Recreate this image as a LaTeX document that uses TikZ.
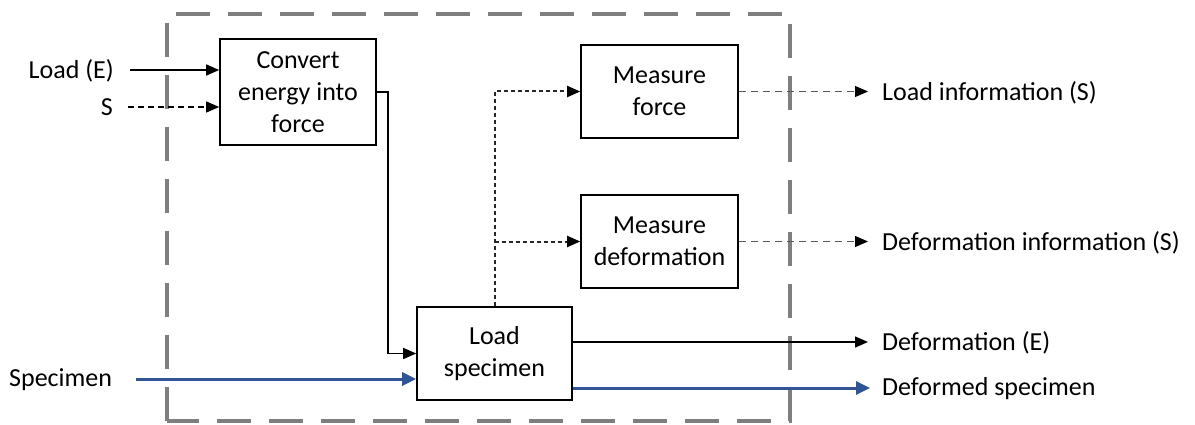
\documentclass[tikz,border=0pt]{standalone}
\usepackage{fontspec}
\setmainfont{Carlito}
\usetikzlibrary{arrows.meta}
\definecolor{flowblue}{HTML}{2F5597}
\definecolor{frame}{HTML}{7F7F7F}
\tikzset{
  fn/.style={draw=black, line width=1.6pt, fill=white, align=center, inner sep=2pt,
    font=\fontsize{26}{32}\selectfont},
  lbl/.style={inner sep=0pt, font=\fontsize{26}{32}\selectfont},
  tip/.style={-{Triangle[length=13pt,width=11pt,color=black]}},
  energy/.style={tip, draw=black, line width=1.5pt},
  signal/.style={tip, draw=black, line width=1.2pt, dash pattern=on 6pt off 4pt},
  probe/.style={tip, draw=black!85, line width=2pt, dash pattern=on 4pt off 3pt},
  sigout/.style={tip, draw=black!65, line width=1pt, dash pattern=on 7pt off 5pt},
  matter/.style={draw=flowblue, fill=flowblue, line width=3pt,
    -{Triangle[length=14pt,width=13pt]}},
  boundary/.style={draw=frame, line width=4pt, dash pattern=on 34pt off 18pt}
}
\begin{document}
\begin{tikzpicture}[x=1pt,y=-1pt]
\useasboundingbox (0,0) rectangle (1195,425);

% system boundary
\draw[boundary] (167,421) -- (167,14) -- (790,14) -- (790,421) -- cycle;

% function blocks
\node[fn, minimum width=156pt, minimum height=106pt] (conv) at (298,92)
  {Convert\\energy into\\force};
\node[fn, minimum width=157pt, minimum height=93pt] (mf) at (659.5,91.5)
  {Measure\\force};
\node[fn, minimum width=157pt, minimum height=93pt] (md) at (659.5,241.5)
  {Measure\\deformation};
\node[fn, minimum width=155pt, minimum height=93pt] (ls) at (494.5,353.5)
  {Load\\specimen};

% inputs
\node[lbl, anchor=east] (inE) at (114,71) {Load (E)};
\node[lbl, anchor=east] (inS) at (113,107) {S};
\node[lbl, anchor=west] (inM) at (9,380) {Specimen};

% outputs
\node[lbl, anchor=west] (outF) at (882,93) {Load information (S)};
\node[lbl, anchor=west] (outD) at (882,243) {Deformation information (S)};
\node[lbl, anchor=west] (outE) at (882,343) {Deformation (E)};
\node[lbl, anchor=west] (outM) at (882,389) {Deformed specimen};

% input flows
\draw[energy, shorten <=16pt] (inE.east |- 0,70) -- (conv.west |- 0,70);
\draw[signal, shorten <=15pt] (inS.east |- 0,107) -- (conv.west |- 0,107);
\draw[matter, shorten <=24pt] (inM.east |- 0,379) -- (ls.west |- 0,379);

% internal flows
\draw[energy] (conv.east) -- ++(11,0) |- (ls.west);
\draw[probe] (ls.north) |- (mf.west);
\draw[probe] (ls.north |- md.west) -- (md.west);

% output flows
\draw[sigout, shorten >=14pt] (mf.east) -- (outF.west |- mf.east);
\draw[sigout, shorten >=14pt] (md.east) -- (outD.west |- md.east);
\draw[energy, shorten >=14pt] (ls.east |- 0,342) -- (outE.west |- 0,342);
\draw[matter, shorten >=12pt] (ls.east |- 0,388) -- (outM.west |- 0,388);
\end{tikzpicture}
\end{document}
